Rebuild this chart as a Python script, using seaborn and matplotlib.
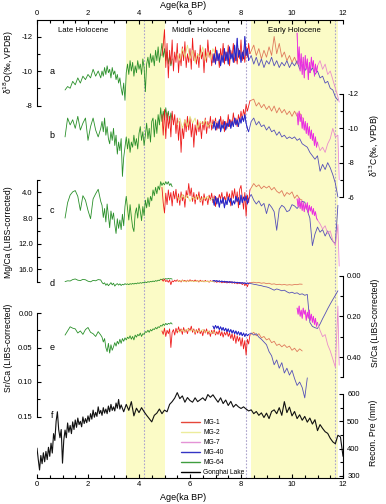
import numpy as np
import pandas as pd
import matplotlib
matplotlib.use("Agg")
import matplotlib.pyplot as plt
import seaborn as sns
from matplotlib.ticker import FixedLocator, FixedFormatter
from matplotlib.lines import Line2D

# ---------------- ages (ka BP) ----------------
mg64_age = [1.10, 1.20, 1.30, 1.40, 1.50, 1.60, 1.70, 1.80, 1.90, 2.00, 2.10, 2.20, 2.30, 2.40, 2.50,
            2.55, 2.60, 2.65, 2.70, 2.75, 2.80, 2.85, 2.90, 2.95, 3.00, 3.05, 3.10, 3.15, 3.20, 3.25, 3.30, 3.35, 3.40, 3.45, 3.50,
            3.55, 3.60, 3.65, 3.70, 3.75, 3.80, 3.85, 3.90, 3.95, 4.00, 4.05, 4.10, 4.15, 4.20, 4.25, 4.30, 4.35, 4.40, 4.45, 4.50,
            4.55, 4.60, 4.65, 4.70, 4.75, 4.80, 4.85, 4.90, 4.95, 5.00, 5.05, 5.10, 5.15, 5.20, 5.25, 5.30]
mg1_age = [4.90, 4.95, 5.00, 5.05, 5.10, 5.15, 5.20, 5.25, 5.30, 5.35,
           5.40, 5.45, 5.50, 5.55, 5.60, 5.65, 5.70, 5.75, 5.80, 5.85,
           5.90, 5.95, 6.00, 6.05, 6.10, 6.15, 6.20, 6.25, 6.30, 6.35,
           6.40, 6.45, 6.50, 6.55, 6.60, 6.65, 6.70, 6.75, 6.80, 6.85,
           6.90, 6.95, 7.00, 7.05, 7.10, 7.15, 7.20, 7.25, 7.30, 7.35,
           7.40, 7.45, 7.50, 7.55, 7.60, 7.65, 7.70, 7.75, 7.80, 7.85,
           7.90, 7.95, 8.00, 8.05, 8.10, 8.15, 8.20, 8.25, 8.30, 8.35]
mg1_tail_age = [8.35, 8.5, 8.6, 8.7, 8.8, 8.9, 9.0, 9.1, 9.2, 9.3, 9.4, 9.5, 9.6, 9.7, 9.8, 9.9,
                10.0, 10.1, 10.2, 10.3, 10.4]
mg2_age = [5.5, 5.6, 5.7, 5.8, 5.9, 6.0, 6.1, 6.2, 6.3, 6.4, 6.5, 6.6, 6.7, 6.8, 6.9, 7.0]
mg40_age = [6.90, 6.95, 7.00, 7.05, 7.10, 7.15, 7.20, 7.25, 7.30, 7.35, 7.40, 7.45, 7.50, 7.55, 7.60,
            7.65, 7.70, 7.75, 7.80, 7.85, 7.90, 7.95, 8.00, 8.05, 8.10, 8.15, 8.20, 8.25, 8.30]
mg40_tail_age = [8.4, 8.5, 8.6, 8.7, 8.8, 8.9, 9.0, 9.1, 9.2, 9.3, 9.4, 9.5, 9.6, 9.7, 9.8, 9.9,
                 10.0, 10.1, 10.2, 10.3, 10.4, 10.5, 10.6, 10.7, 10.8, 10.9, 11.0, 11.1, 11.2, 11.3,
                 11.4, 11.5, 11.6, 11.7, 11.8]
mg7_age = [10.20, 10.24, 10.28, 10.32, 10.36, 10.40, 10.44, 10.48, 10.52, 10.56, 10.60,
           10.64, 10.68, 10.72, 10.76, 10.80, 10.84, 10.88, 10.92, 10.96, 11.00]
mg7_tail_age = [11.1, 11.2, 11.3, 11.4, 11.5, 11.6, 11.7, 11.8, 11.85]
gh_age = [0.00, 0.05, 0.10, 0.15, 0.20, 0.25, 0.30, 0.35, 0.40, 0.45,
          0.50, 0.55, 0.60, 0.65, 0.70, 0.75, 0.80, 0.85, 0.90, 0.95,
          1.00, 1.05, 1.10, 1.15, 1.20, 1.25, 1.30, 1.35, 1.40, 1.45,
          1.50, 1.55, 1.60, 1.65, 1.70, 1.75, 1.80, 1.85, 1.90, 1.95,
          2.00, 2.05, 2.10, 2.15, 2.20, 2.25, 2.30, 2.35, 2.40, 2.45,
          2.50, 2.55, 2.60, 2.65, 2.70, 2.75, 2.80, 2.85, 2.90, 2.95,
          3.00, 3.05, 3.10, 3.15, 3.20, 3.25, 3.30,
          3.4, 3.5, 3.6, 3.7, 3.8, 3.9, 4.0, 4.1, 4.2, 4.3,
          4.4, 4.5, 4.6, 4.7, 4.8, 4.9, 5.0, 5.1, 5.2, 5.3,
          5.4, 5.5, 5.6, 5.7, 5.8, 5.9, 6.0, 6.1, 6.2, 6.3,
          6.4, 6.5, 6.6, 6.7, 6.8, 6.9, 7.0, 7.1, 7.2, 7.3,
          7.4, 7.5, 7.6, 7.7, 7.8, 7.9, 8.0, 8.1, 8.2, 8.3,
          8.4, 8.5, 8.6, 8.7, 8.8, 8.9, 9.0, 9.1, 9.2, 9.3,
          9.4, 9.5, 9.6, 9.7, 9.8, 9.9, 10.0, 10.1, 10.2, 10.3,
          10.4, 10.5, 10.6, 10.7, 10.8, 10.9, 11.0, 11.1, 11.2, 11.3,
          11.4, 11.5, 11.6, 11.7, 11.8, 11.9, 12.0]

# ---------------- a: d18O ----------------
mg64_a = [-8.9, -9.1, -9.0, -9.4, -9.2, -9.6, -9.3, -9.7, -9.5, -9.8, -9.6, -10.1, -9.7, -10.0, -9.6,
          -10.0, -9.7, -10.2, -9.8, -10.3, -9.9, -10.1, -9.6, -10.2, -9.8, -10.0, -9.5, -9.8, -9.3, -9.6, -9.0, -8.6, -9.3, -8.3, -9.9,
          -10.4, -9.8, -10.6, -10.0, -10.5, -9.7, -10.3, -9.9, -10.6, -10.1, -10.4, -9.8, -10.7, -10.2, -8.8, -10.4, -10.8, -10.2, -11.0, -10.5,
          -10.9, -10.3, -11.2, -10.6, -11.4, -10.5, -11.0, -11.6, -10.8, -11.3, -10.6, -11.1, -10.4, -10.9, -10.3, -10.7]
mg1_a = [-10.9, -11.5, -12.4, -10.2, -11.6, -9.6, -11.2, -10.4, -11.8, -10.0,
         -11.1, -10.5, -11.6, -9.9, -11.0, -10.3, -11.4, -10.6, -11.7, -10.2,
         -11.0, -10.5, -11.3, -10.1, -11.9, -10.6, -11.2, -10.4, -11.0, -10.2,
         -11.5, -10.7, -11.1, -9.9, -11.3, -10.5, -11.8, -10.8, -11.2, -10.3,
         -11.0, -10.5, -11.4, -10.6, -11.0, -10.2, -11.3, -10.7, -11.6, -10.4,
         -11.1, -10.6, -11.5, -10.3, -11.2, -10.8, -11.6, -10.5, -11.0, -10.4,
         -11.3, -10.7, -11.8, -10.6, -11.2, -10.5, -11.4, -10.8, -11.6, -11.0]
mg1_tail_a = [-11.0, -11.5, -10.9, -11.3, -10.7, -11.2, -10.8, -11.4, -10.9, -12.0, -11.0,
              -11.6, -10.8, -11.1, -10.6, -10.9, -10.5, -10.8, -10.4, -10.7, -10.5]
mg2_a = [-11.0, -10.6, -11.3, -10.8, -11.5, -10.7, -11.2, -10.5, -11.0, -10.8, -11.4, -10.6, -11.1, -10.7, -11.3, -10.9]
mg40_a = [-10.5, -11.0, -10.4, -11.2, -10.6, -11.0, -10.3, -10.9, -10.5, -11.3,
          -10.6, -11.1, -10.4, -11.4, -10.7, -11.0, -10.5, -11.5, -10.6, -11.9,
          -10.8, -11.2, -10.5, -11.1, -10.7, -12.0, -10.9, -11.3, -10.6]
mg40_tail_a = [-10.9, -10.4, -10.8, -10.3, -10.7, -10.2, -10.6, -10.4, -10.8, -10.3,
               -10.6, -10.2, -10.5, -10.3, -10.6, -10.2, -10.5, -10.3, -10.6, -10.1,
               -10.4, -10.0, -10.3, -9.9, -10.2, -9.8, -10.0, -9.6, -9.7, -9.3,
               -9.4, -9.0, -8.9, -8.5, -8.3]
mg7_a = [-12.2, -10.4, -11.4, -10.0, -11.0, -9.8, -10.8, -9.6, -10.9, -10.1, -10.7,
         -9.5, -10.5, -9.9, -10.8, -10.2, -10.6, -9.7, -10.4, -9.9, -10.3]
mg7_tail_a = [-10.6, -10.1, -10.4, -9.8, -10.0, -9.5, -9.0, -8.5, -8.2]

# ---------------- b: d13C ----------------
mg64_b = [-9.5, -10.6, -10.2, -10.5, -10.0, -10.7, -9.9, -10.3, -10.6, -9.3, -10.1, -10.6, -9.9, -9.5, -10.0,
          -10.4, -9.8, -10.6, -9.6, -10.1, -9.4, -9.1, -9.8, -9.3, -10.0, -9.0, -9.6, -8.5, -9.2, -8.7, -9.4, -7.2, -8.3, -8.9, -9.5,
          -8.8, -9.4, -8.6, -9.2, -8.9, -9.6, -9.0, -9.4, -8.8, -9.7, -10.1, -9.3, -9.8, -9.0, -9.6, -10.3, -9.4, -10.0, -9.2, -10.4,
          -10.6, -9.5, -10.5, -9.7, -10.8, -10.2, -11.2, -10.4, -11.0, -10.5, -11.2, -10.6, -11.0, -10.3, -10.9, -10.5]
mg1_b = [-10.8, -9.6, -11.1, -9.4, -10.9, -10.0, -10.7, -9.5, -11.0, -10.2,
         -10.8, -9.7, -10.6, -9.3, -10.4, -8.6, -10.1, -9.4, -10.5, -9.8,
         -10.7, -9.9, -10.6, -9.5, -10.3, -8.9, -10.2, -9.6, -10.5, -9.8,
         -10.3, -9.4, -10.4, -9.9, -10.6, -9.7, -10.4, -10.0, -10.7, -9.9,
         -10.5, -10.1, -10.6, -9.9, -10.4, -10.0, -10.7, -10.1, -10.5, -9.8,
         -10.4, -10.0, -10.8, -10.1, -10.5, -10.2, -10.9, -10.3, -10.6, -10.1,
         -10.8, -10.4, -11.0, -10.5, -11.1, -10.7, -11.4, -11.0, -11.3, -11.6]
mg1_tail_b = [-11.6, -11.7, -11.3, -11.5, -11.2, -11.4, -11.1, -11.3, -11.0, -11.3, -10.9,
              -11.2, -10.9, -11.1, -10.8, -11.0, -10.7, -11.0, -10.7, -10.9, -10.6]
mg2_b = [-10.2, -10.6, -10.0, -10.5, -10.1, -10.7, -10.3, -10.6, -10.0, -10.4, -10.2, -10.5, -10.1, -10.3, -10.2, -10.4]
mg40_b = [-10.0, -10.4, -9.9, -10.3, -10.0, -10.5, -9.8, -10.2, -10.0, -10.4,
          -9.9, -10.3, -10.1, -10.5, -10.0, -10.4, -10.1, -10.6, -10.2, -10.5,
          -10.1, -10.6, -10.3, -10.7, -10.4, -10.8, -10.3, -10.0, -9.8]
mg40_tail_b = [-10.4, -10.6, -10.2, -10.4, -10.1, -10.2, -9.9, -10.1, -9.8, -9.9,
               -9.6, -9.8, -9.5, -9.6, -9.4, -9.5, -9.4, -9.5, -9.3, -9.4,
               -9.1, -9.0, -8.9, -8.6, -8.4, -8.2, -8.4, -7.5, -7.9, -7.6,
               -8.0, -7.7, -7.3, -6.8, -6.0]
mg7_b = [-10.9, -10.2, -11.0, -10.4, -10.8, -10.0, -10.6, -9.9, -10.4, -9.7, -10.3,
         -9.6, -10.1, -9.4, -9.9, -9.3, -9.7, -9.0, -9.5, -8.9, -9.2]
mg7_tail_b = [-8.7, -8.9, -8.6, -9.1, -9.4, -10.0, -9.5, -9.6, -7.0]

# ---------------- c: Mg/Ca ----------------
mg64_c = [8.0, 5.6, 4.4, 3.9, 3.7, 4.6, 6.8, 4.5, 5.2, 6.8, 8.1, 5.0, 4.2, 3.5, 5.4,
          6.0, 7.9, 6.5, 8.6, 5.8, 7.6, 9.5, 6.9, 8.2, 7.2, 9.0, 10.4, 8.1, 9.6, 8.3, 9.8, 7.4, 9.2, 6.2, 4.6,
          6.5, 8.3, 5.9, 7.8, 9.4, 10.1, 7.3, 6.4, 8.0, 5.8, 6.9, 8.4, 6.2, 7.6, 5.2, 6.4, 4.8, 6.2, 4.6, 5.3,
          3.6, 4.5, 3.2, 4.2, 3.0, 3.6, 2.3, 2.9, 2.5, 2.8, 2.3, 2.7, 2.3, 2.9, 2.6, 3.1]
mg1_c = [3.2, 5.6, 7.2, 4.1, 5.9, 3.6, 5.2, 4.0, 6.1, 3.8,
         5.0, 3.5, 5.6, 4.2, 6.0, 3.9, 5.3, 4.4, 6.3, 3.7,
         4.8, 2.6, 4.5, 3.3, 5.4, 4.0, 5.8, 4.3, 5.1, 3.9,
         5.5, 4.6, 6.0, 4.2, 5.3, 4.7, 5.9, 4.4, 5.2, 4.1,
         5.6, 4.5, 6.2, 4.8, 5.4, 4.3, 5.0, 4.0, 5.7, 4.6,
         5.3, 3.9, 5.0, 4.2, 6.1, 3.7, 4.9, 3.4, 5.5, 3.9,
         6.4, 3.5, 2.9, 4.8, 6.6, 4.0, 7.7, 4.4, 5.6, 3.6]
mg1_tail_c = [3.6, 2.6, 3.1, 2.8, 3.4, 3.0, 3.3, 3.0, 3.6, 3.2, 3.8,
              4.1, 3.7, 4.6, 4.0, 4.3, 3.9, 4.9, 4.4, 5.0, 5.2]
mg2_c = [4.6, 5.2, 4.3, 5.0, 4.4, 5.4, 4.7, 5.1, 4.5, 5.3, 4.8, 5.0, 4.6, 5.2, 4.9, 5.1]
mg40_c = [5.0, 6.0, 4.6, 5.8, 4.9, 6.3, 5.1, 5.7, 4.8, 6.4,
          5.2, 5.9, 4.7, 5.5, 4.9, 6.0, 5.3, 5.8, 4.6, 5.4,
          4.8, 5.9, 4.4, 5.6, 4.7, 5.3, 4.5, 5.8, 5.0]
mg40_tail_c = [4.3, 5.2, 5.8, 5.3, 6.1, 5.7, 7.3, 5.8, 6.3, 7.0,
               9.9, 6.6, 6.0, 6.3, 7.0, 6.8, 5.9, 6.1, 6.5, 6.0,
               5.4, 5.5, 6.8, 8.0, 12.3, 10.5, 9.4, 10.2, 9.8, 10.8,
               10.0, 11.0, 11.6, 12.0, 6.0]
mg7_c = [5.0, 6.2, 4.9, 6.5, 5.3, 6.8, 5.5, 7.0, 5.8, 6.6, 5.6,
         7.2, 6.0, 6.9, 6.2, 7.4, 6.5, 7.6, 7.0, 8.0, 8.3]
mg7_tail_c = [8.9, 9.7, 9.2, 10.4, 10.0, 11.5, 12.3, 9.0, 15.5]

# ---------------- d: Sr/Ca (right scale) ----------------
mg64_d = [0.030, 0.026, 0.027, 0.020, 0.017, 0.023, 0.025, 0.019, 0.021, 0.028, 0.031, 0.024, 0.026, 0.020, 0.022,
          0.034, 0.041, 0.036, 0.048, 0.040, 0.050, 0.043, 0.035, 0.046, 0.038, 0.052, 0.044, 0.040, 0.047, 0.041, 0.049, 0.043, 0.046, 0.040, 0.044,
          0.041, 0.045, 0.040, 0.043, 0.039, 0.042, 0.038, 0.041, 0.036, 0.039, 0.035, 0.038, 0.034, 0.036, 0.032, 0.035, 0.030, 0.033, 0.029, 0.031,
          0.027, 0.030, 0.025, 0.028, 0.023, 0.025, 0.018, 0.021, 0.016, 0.019, 0.015, 0.018, 0.014, 0.017, 0.015, 0.018]
mg1_d = [0.020, 0.028, 0.018, 0.030, 0.024, 0.033, 0.022, 0.045, 0.026, 0.031,
         0.023, 0.029, 0.021, 0.030, 0.025, 0.032, 0.022, 0.028, 0.024, 0.031,
         0.023, 0.029, 0.021, 0.027, 0.024, 0.030, 0.022, 0.028, 0.025, 0.032,
         0.023, 0.029, 0.026, 0.031, 0.024, 0.030, 0.027, 0.033, 0.025, 0.030,
         0.026, 0.032, 0.027, 0.034, 0.028, 0.033, 0.029, 0.036, 0.030, 0.035,
         0.029, 0.037, 0.031, 0.036, 0.030, 0.038, 0.032, 0.039, 0.033, 0.041,
         0.034, 0.040, 0.035, 0.045, 0.036, 0.050, 0.038, 0.055, 0.037, 0.036]
mg1_tail_d = [0.036, 0.033, 0.036, 0.034, 0.038, 0.036, 0.040, 0.038, 0.043, 0.041, 0.045,
              0.043, 0.046, 0.044, 0.047, 0.045, 0.047, 0.044, 0.045, 0.042, 0.043]
mg2_d = [0.026, 0.029, 0.025, 0.030, 0.026, 0.028, 0.027, 0.030, 0.026, 0.029, 0.027, 0.031, 0.028, 0.030, 0.029, 0.031]
mg40_d = [0.027, 0.024, 0.029, 0.025, 0.030, 0.026, 0.031, 0.027, 0.032, 0.028,
          0.033, 0.029, 0.034, 0.030, 0.034, 0.031, 0.035, 0.032, 0.036, 0.033,
          0.037, 0.034, 0.038, 0.035, 0.039, 0.036, 0.040, 0.037, 0.039]
mg40_tail_d = [0.040, 0.043, 0.045, 0.048, 0.050, 0.054, 0.056, 0.060, 0.066, 0.072,
               0.066, 0.070, 0.075, 0.072, 0.080, 0.086, 0.082, 0.088, 0.085, 0.093,
               0.090, 0.097, 0.093, 0.230, 0.250, 0.256, 0.260, 0.238, 0.212, 0.188,
               0.163, 0.140, 0.118, 0.097, 0.075]
mg7_d = [0.16, 0.19, 0.15, 0.20, 0.17, 0.21, 0.16, 0.19, 0.17, 0.22, 0.18,
         0.21, 0.17, 0.22, 0.19, 0.23, 0.20, 0.24, 0.21, 0.25, 0.23]
mg7_tail_d = [0.27, 0.30, 0.29, 0.34, 0.37, 0.41, 0.45, 0.15, 0.44]

# ---------------- e: Sr/Ca (left scale) ----------------
mg64_e = [0.032, 0.026, 0.020, 0.022, 0.023, 0.029, 0.026, 0.031, 0.024, 0.021, 0.028, 0.030, 0.034, 0.027, 0.032,
          0.035, 0.042, 0.037, 0.050, 0.056, 0.044, 0.058, 0.046, 0.054, 0.049, 0.043, 0.048, 0.041, 0.045, 0.038, 0.044, 0.037, 0.041, 0.036, 0.039,
          0.035, 0.037, 0.033, 0.038, 0.034, 0.039, 0.032, 0.035, 0.031, 0.033, 0.029, 0.034, 0.030, 0.031, 0.027, 0.028, 0.025, 0.028, 0.024, 0.026,
          0.023, 0.024, 0.021, 0.023, 0.020, 0.021, 0.018, 0.019, 0.016, 0.018, 0.015, 0.017, 0.015, 0.016, 0.014, 0.016]
mg1_e = [0.026, 0.031, 0.022, 0.034, 0.025, 0.030, 0.023, 0.050, 0.028, 0.024,
         0.032, 0.022, 0.029, 0.020, 0.027, 0.023, 0.031, 0.021, 0.028, 0.024,
         0.030, 0.022, 0.026, 0.019, 0.028, 0.023, 0.031, 0.024, 0.029, 0.022,
         0.030, 0.025, 0.033, 0.024, 0.029, 0.023, 0.031, 0.026, 0.034, 0.025,
         0.030, 0.024, 0.032, 0.027, 0.031, 0.025, 0.033, 0.027, 0.035, 0.028,
         0.032, 0.026, 0.034, 0.029, 0.037, 0.030, 0.040, 0.031, 0.044, 0.033,
         0.041, 0.035, 0.048, 0.036, 0.052, 0.040, 0.061, 0.038, 0.045, 0.032]
mg1_tail_e = [0.032, 0.028, 0.033, 0.030, 0.036, 0.034, 0.039, 0.037, 0.043, 0.041, 0.047,
              0.045, 0.049, 0.046, 0.050, 0.048, 0.054, 0.051, 0.056, 0.052, 0.055]
mg2_e = [0.025, 0.028, 0.024, 0.027, 0.023, 0.026, 0.024, 0.028, 0.025, 0.027, 0.024, 0.028, 0.026, 0.029, 0.027, 0.030]
mg40_e = [0.019, 0.023, 0.018, 0.022, 0.019, 0.024, 0.020, 0.025, 0.021, 0.026,
          0.022, 0.027, 0.023, 0.028, 0.024, 0.029, 0.025, 0.030, 0.026, 0.031,
          0.027, 0.032, 0.028, 0.033, 0.029, 0.034, 0.030, 0.033, 0.031]
mg40_tail_e = [0.029, 0.032, 0.030, 0.035, 0.038, 0.042, 0.046, 0.056, 0.062, 0.075,
               0.068, 0.080, 0.072, 0.087, 0.080, 0.090, 0.083, 0.095, 0.105, 0.100,
               0.108, 0.123, 0.094]

# ---------------- f: Gonghai Lake precipitation ----------------
gh_pre = [402, 360, 322, 375, 345, 385, 352, 390, 360, 405,
          372, 420, 384, 455, 430, 500, 535, 470, 440, 470,
          347, 431, 468, 440, 494, 460, 485, 455, 498, 470,
          505, 478, 512, 488, 500, 480, 516, 492, 510, 495,
          520, 500, 528, 508, 541, 515, 533, 518, 553, 528,
          540, 522, 550, 530, 545, 528, 556, 535, 562, 540,
          553, 538, 567, 548, 580, 545, 560,
          535, 562, 540, 572, 520, 548, 532, 550, 535, 522,
          510, 498, 522, 530, 545, 528, 541, 535, 562, 572,
          585, 605, 583, 593, 570, 587, 576, 570, 586, 572,
          579, 586, 576, 598, 588, 597, 583, 570, 586, 565,
          578, 558, 573, 552, 562, 553, 547, 553, 545, 538,
          542, 528, 536, 522, 531, 514, 530, 510, 536, 542,
          528, 550, 522, 572, 532, 552, 520, 536, 510, 524,
          504, 518, 497, 512, 490, 506, 466, 488, 474, 462,
          456, 438, 425, 418, 449, 443, 372]

legend_names = ["MG-1", "MG-2", "MG-7", "MG-40", "MG-64", "Gonghai Lake"]
legend_colors = ["#e6473a", "#ecec9c", "#e493d6", "#3434c4", "#3f9e3f", "#000000"]

C_GREEN = "#2a902a"
C_RED = "#ee1b1b"
C_SALMON = "#df7a5c"
C_YELLOW = "#e2e27a"
C_BLUE = "#2222cc"
C_BLUE2 = "#5550b8"
C_MAG = "#ea2be2"
C_PINK = "#ea8ccb"

sns.set_theme(style="ticks")
plt.rcParams["font.family"] = ["Liberation Sans", "DejaVu Sans"]
plt.rcParams["axes.unicode_minus"] = False
plt.rcParams["text.color"] = "black"
plt.rcParams["xtick.color"] = "black"
plt.rcParams["ytick.color"] = "black"
plt.rcParams["axes.edgecolor"] = "black"

W, H = 386, 504
X0, X1, YT, YB = 37, 343, 20, 478
fig = plt.figure(figsize=(W / 100, H / 100), dpi=100)
rect = [X0 / W, 1 - YB / H, (X1 - X0) / W, (YB - YT) / H]

# base frame: age axes top & bottom, shaded periods, dashed events
base = fig.add_axes(rect)
base.set_xlim(0, 12)
base.set_ylim(YB, YT)
base.spines["left"].set_visible(False)
base.spines["right"].set_visible(False)
for s in ["top", "bottom"]:
    base.spines[s].set_linewidth(0.8)
base.set_yticks([])
base.xaxis.set_major_locator(FixedLocator([0, 2, 4, 6, 8, 10, 12]))
base.xaxis.set_minor_locator(FixedLocator([0.5, 1, 1.5, 2.5, 3, 3.5, 4.5, 5, 5.5, 6.5, 7, 7.5,
                                           8.5, 9, 9.5, 10.5, 11, 11.5]))
base.tick_params(axis="x", which="both", direction="in", top=True, bottom=True,
                 labeltop=True, labelbottom=True, labelsize=5.5, width=0.8, pad=2)
base.tick_params(axis="x", which="major", length=3)
base.tick_params(axis="x", which="minor", length=2.5)
base.axvspan(3.5, 5.0, color="#fbfbc6", lw=0, zorder=0)
base.axvspan(8.4, 11.8, color="#fbfbc6", lw=0, zorder=0)
for xv in [4.2, 8.2, 11.7]:
    base.axvline(xv, color="#aaa3cc", lw=0.8, ls=(0, (1.5, 1.5)), zorder=1)
base.text(1.8, 30, "Late Holocene", ha="center", va="center", fontsize=5.6)
base.text(6.45, 30, "Middle Holocene", ha="center", va="center", fontsize=5.6)
base.text(10.1, 30, "Early Holocene", ha="center", va="center", fontsize=5.6)
for letter, py in zip("abcdef", [71, 135, 210, 283, 347, 415]):
    base.text(0.6, py, letter, ha="center", va="center", fontsize=6.5)


def panel(side, ticks, labels, minor, v1, y1, v2, y2, top_px, bot_px):
    ax = fig.add_axes(rect, facecolor="none")
    k = (v2 - v1) / (y2 - y1)
    ax.set_xlim(0, 12)
    ax.set_ylim(v1 + (YB - y1) * k, v1 + (YT - y1) * k)
    for s in ax.spines.values():
        s.set_visible(False)
    sp = ax.spines[side]
    sp.set_visible(True)
    sp.set_linewidth(0.8)
    sp.set_bounds(v1 + (top_px - y1) * k, v1 + (bot_px - y1) * k)
    ax.xaxis.set_visible(False)
    ax.yaxis.set_major_locator(FixedLocator(ticks))
    ax.yaxis.set_major_formatter(FixedFormatter(labels))
    ax.yaxis.set_minor_locator(FixedLocator(minor))
    on_left = side == "left"
    ax.tick_params(axis="y", which="both", direction="in", left=on_left, right=not on_left,
                   labelleft=on_left, labelright=not on_left, width=0.8, labelsize=5.5, pad=3)
    ax.tick_params(axis="y", which="major", length=3)
    ax.tick_params(axis="y", which="minor", length=2.5)
    return ax


def trace(ax, age, val, color, lw=0.6):
    d = pd.DataFrame({"age": age, "val": val})
    sns.lineplot(data=d, x="age", y="val", ax=ax, color=color, lw=lw,
                 estimator=None, sort=False)
    ax.set_xlabel("")
    ax.set_ylabel("")


ax_a = panel("left", [-12, -10, -8], ["-12", "-10", "-8"], [-11, -9], -12, 36.5, -8, 105.5, 20, 105.5)
ax_b = panel("right", [-12, -10, -8, -6], ["-12", "-10", "-8", "-6"], [-11, -9, -7], -12, 94, -6, 197, 94, 197)
ax_c = panel("left", [4, 8, 12, 16], ["4.0", "8.0", "12.0", "16.0"], [2, 6, 10, 14, 18], 4, 192.5, 16, 269.3, 180, 282)
ax_d = panel("right", [0, 0.2, 0.4], ["0.00", "0.20", "0.40"], [0.1, 0.3, 0.5], 0, 275.5, 0.4, 357, 275.5, 377)
ax_e = panel("left", [0, 0.05, 0.10, 0.15], ["0.00", "0.05", "0.10", "0.15"], [0.025, 0.075, 0.125], 0, 313, 0.15, 416.5, 313, 416.5)
ax_f = panel("right", [300, 400, 500, 600], ["300", "400", "500", "600"], [350, 450, 550], 600, 394, 300, 476, 394, 477)

records = [
    (ax_a, mg64_a, mg1_a, mg1_tail_a, mg2_a, mg40_a, mg40_tail_a, mg7_a, mg7_tail_a),
    (ax_b, mg64_b, mg1_b, mg1_tail_b, mg2_b, mg40_b, mg40_tail_b, mg7_b, mg7_tail_b),
    (ax_c, mg64_c, mg1_c, mg1_tail_c, mg2_c, mg40_c, mg40_tail_c, mg7_c, mg7_tail_c),
    (ax_d, mg64_d, mg1_d, mg1_tail_d, mg2_d, mg40_d, mg40_tail_d, mg7_d, mg7_tail_d),
    (ax_e, mg64_e, mg1_e, mg1_tail_e, mg2_e, mg40_e, mg40_tail_e, None, None),
]
for ax, g, r, rt, y, bl, blt, m, mt in records:
    trace(ax, mg64_age, g, C_GREEN)
    trace(ax, mg1_tail_age, rt, C_SALMON)
    trace(ax, mg1_age, r, C_RED)
    trace(ax, mg2_age, y, C_YELLOW)
    trace(ax, mg40_age + mg40_tail_age[:len(blt)], bl + blt, C_BLUE2)
    trace(ax, mg40_age, bl, C_BLUE)
    if m is not None:
        trace(ax, mg7_age + mg7_tail_age, m + mt, C_PINK)
        trace(ax, mg7_age, m, C_MAG)

trace(ax_f, gh_age, gh_pre, "#111111", lw=0.8)

# axis titles
fig.text(183 / W, 1 - 6 / H, "Age(ka BP)", ha="center", va="center", fontsize=6.5)
fig.text(183 / W, 1 - 497 / H, "Age(ka BP)", ha="center", va="center", fontsize=6.5)
fig.text(9 / W, 1 - 62 / H, r"δ$^{18}$O(‰, VPDB)", rotation=90, ha="center", va="center", fontsize=6.2)
fig.text(9 / W, 1 - 232 / H, "Mg/Ca (LIBS-corrected)", rotation=90, ha="center", va="center", fontsize=6.2)
fig.text(9 / W, 1 - 348 / H, "Sr/Ca (LIBS-corrected)", rotation=90, ha="center", va="center", fontsize=6.2)
fig.text(375 / W, 1 - 145 / H, r"δ$^{13}$C(‰, VPDB)", rotation=90, ha="center", va="center", fontsize=6.2)
fig.text(375 / W, 1 - 323 / H, "Sr/Ca (LIBS-corrected)", rotation=90, ha="center", va="center", fontsize=6.2)
fig.text(373 / W, 1 - 433 / H, "Recon. Pre (mm)", rotation=90, ha="center", va="center", fontsize=6.2)

handles = [Line2D([], [], color=c, lw=1.0) for c in legend_colors]
fig.legend(handles, legend_names, loc="upper left", bbox_to_anchor=(181 / W, 1 - 419 / H),
           frameon=False, fontsize=4.8, handlelength=2.8, handletextpad=0.5,
           labelspacing=0.45, borderpad=0, borderaxespad=0)

fig.savefig("out.png", dpi=100)
